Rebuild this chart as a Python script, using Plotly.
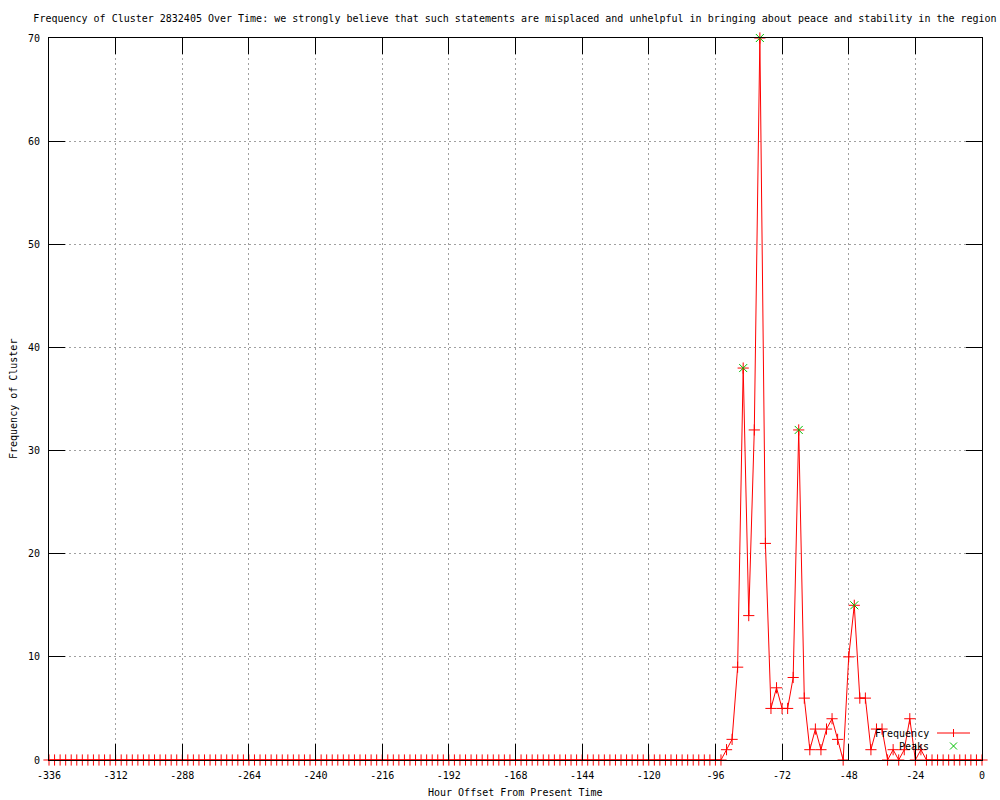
import plotly.graph_objects as go

# ---- data ----
hours = list(range(-336, 1, 2))
nonzero = {
    -92: 1, -90: 2, -88: 9, -86: 38, -84: 14, -82: 32, -80: 70, -78: 21,
    -76: 5, -74: 7, -72: 5, -70: 5, -68: 8, -66: 32, -64: 6, -62: 1,
    -60: 3, -58: 1, -56: 3, -54: 4, -52: 2, -50: 0, -48: 10, -46: 15,
    -44: 6, -42: 6, -40: 1, -38: 3, -36: 3, -34: 0, -32: 1, -30: 0,
    -28: 1, -26: 4, -24: 0, -22: 1, -20: 0,
}
frequency = [nonzero.get(h, 0) for h in hours]

peak_hours = [-86, -80, -66, -46]
peak_values = [38, 70, 32, 15]

x_tickvals = list(range(-336, 1, 24))
x_ticktext = [str(v) for v in x_tickvals]
y_tickvals = list(range(0, 71, 10))
y_ticktext = [str(v) for v in y_tickvals]

title_text = ("Frequency of Cluster 2832405 Over Time: we strongly believe that such "
              "statements are misplaced and unhelpful in bringing about peace and "
              "stability in the region")

FONT = "DejaVu Sans Mono"
W, H = 1000, 800
L, R, T, B = 49, 18, 38, 40
PW, PH = W - L - R, H - T - B

def px(xp):
    return (xp - L) / PW

def py(yp):
    return (H - B - yp) / PH

fig = go.Figure()
fig.add_trace(go.Scatter(
    x=hours, y=frequency, mode="lines+markers", name="Frequency",
    line=dict(color="#ff0000", width=1),
    marker=dict(symbol="cross-thin", size=8, line=dict(color="#ff0000", width=1)),
    cliponaxis=False, showlegend=False,
))
fig.add_trace(go.Scatter(
    x=peak_hours, y=peak_values, mode="markers", name="Peaks",
    marker=dict(symbol="x-thin", size=8, line=dict(color="#00c000", width=1)),
    cliponaxis=False, showlegend=False,
))

axis_common = dict(
    showline=True, linecolor="black", linewidth=1, mirror="ticks",
    ticks="inside", ticklen=16, tickcolor="black", tickwidth=1,
    showgrid=True, gridcolor="#a0a0a0", gridwidth=1, griddash="2px,3px",
    zeroline=False, tickfont=dict(family=FONT, size=10, color="black"),
)
fig.update_xaxes(range=[-336, 0], tickmode="array", tickvals=x_tickvals,
                 ticktext=x_ticktext, ticklabelstandoff=6, **axis_common)
fig.update_yaxes(range=[0, 70], tickmode="array", tickvals=y_tickvals,
                 ticktext=y_ticktext, ticklabelstandoff=6, **axis_common)

annotations = [
    dict(text="Hour Offset From Present Time", xref="paper", yref="paper",
         x=0.5, y=py(793), xanchor="center", yanchor="middle", showarrow=False,
         font=dict(family=FONT, size=10, color="black")),
    dict(text="Frequency of Cluster", xref="paper", yref="paper",
         x=px(13), y=0.5, xanchor="center", yanchor="middle", textangle=-90,
         showarrow=False, font=dict(family=FONT, size=10, color="black")),
    dict(text="Frequency", xref="paper", yref="paper", x=px(931), y=py(733),
         xanchor="right", yanchor="middle", showarrow=False,
         font=dict(family=FONT, size=10, color="black")),
    dict(text="Peaks", xref="paper", yref="paper", x=px(931), y=py(746),
         xanchor="right", yanchor="middle", showarrow=False,
         font=dict(family=FONT, size=10, color="black")),
]

shapes = [
    dict(type="line", xref="paper", yref="paper", x0=px(937), x1=px(970),
         y0=py(733), y1=py(733), line=dict(color="#ff0000", width=1)),
    dict(type="line", xref="paper", yref="paper", x0=px(953.5), x1=px(953.5),
         y0=py(729), y1=py(737), line=dict(color="#ff0000", width=1)),
    dict(type="line", xref="paper", yref="paper", x0=px(950), x1=px(957),
         y0=py(742.5), y1=py(749.5), line=dict(color="#00c000", width=1)),
    dict(type="line", xref="paper", yref="paper", x0=px(950), x1=px(957),
         y0=py(749.5), y1=py(742.5), line=dict(color="#00c000", width=1)),
]

fig.update_layout(
    width=W, height=H, autosize=False,
    margin=dict(l=L, r=R, t=T, b=B),
    paper_bgcolor="white", plot_bgcolor="white",
    title=dict(text=title_text, x=px(515), xref="paper", y=1 - 18 / H,
               yref="container", xanchor="center", yanchor="middle",
               font=dict(family=FONT, size=10, color="black")),
    annotations=annotations, shapes=shapes, showlegend=False,
)

fig.write_html(
    "out.html",
    config={"displayModeBar": False},
    post_script="document.body.style.margin='0';document.body.style.overflow='hidden';",
)
